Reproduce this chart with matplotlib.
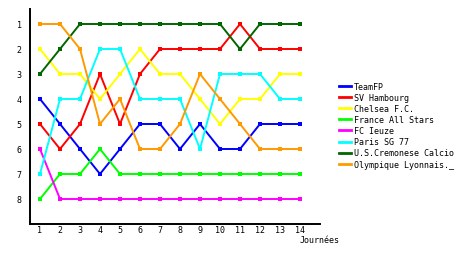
import matplotlib
matplotlib.use("Agg")
import matplotlib.pyplot as plt

journees = list(range(1, 15))

teams = ["TeamFP", "SV Hambourg", "Chelsea F.C.", "France All Stars",
         "FC Ieuze", "Paris SG 77", "U.S.Cremonese Calcio", "Olympique Lyonnais._"]
colors = ["#0000ff", "#ff0000", "#ffff00", "#00ff00",
          "#ff00ff", "#00ffff", "#006600", "#ff9900"]

teamfp = [4, 5, 6, 7, 6, 5, 5, 6, 5, 6, 6, 5, 5, 5]
hambourg = [5, 6, 5, 3, 5, 3, 2, 2, 2, 2, 1, 2, 2, 2]
chelsea = [2, 3, 3, 4, 3, 2, 3, 3, 4, 5, 4, 4, 3, 3]
france = [8, 7, 7, 6, 7, 7, 7, 7, 7, 7, 7, 7, 7, 7]
ieuze = [6, 8, 8, 8, 8, 8, 8, 8, 8, 8, 8, 8, 8, 8]
paris = [7, 4, 4, 2, 2, 4, 4, 4, 6, 3, 3, 3, 4, 4]
cremonese = [3, 2, 1, 1, 1, 1, 1, 1, 1, 1, 2, 1, 1, 1]
lyon = [1, 1, 2, 5, 4, 6, 6, 5, 3, 4, 5, 6, 6, 6]

series = [teamfp, hambourg, chelsea, france, ieuze, paris, cremonese, lyon]

plt.rcParams['font.family'] = ['DejaVu Sans Mono']
plt.rcParams['font.size'] = 6

fig = plt.figure(figsize=(4.6, 2.55), dpi=100)
ax = fig.add_axes([30 / 460, 30 / 255, 290 / 460, 215 / 255])

for name, vals, c in zip(teams, series, colors):
    ax.plot(journees, vals, color=c, lw=1.4, marker='s', markersize=2.3,
            markeredgewidth=0, label=name)

ax.set_xlim(0.5, 15)
ax.set_ylim(9, 0.4)
ax.set_xticks(journees)
ax.set_yticks(range(1, 9))
ax.tick_params(axis='x', length=0, pad=1)
ax.tick_params(axis='y', length=0, pad=6)
for s in ['top', 'right']:
    ax.spines[s].set_visible(False)
ax.spines['left'].set_linewidth(1.4)
ax.spines['bottom'].set_linewidth(1.4)

fig.text(300 / 460, 1 - 241 / 255, "Journées", fontsize=6, va='center', ha='left')

leg = fig.legend(loc='upper left', bbox_to_anchor=(339 / 460, 1 - 83 / 255),
                 frameon=False, handlelength=1.4, handletextpad=0.4,
                 labelspacing=0.25, borderaxespad=0, borderpad=0)
for h in leg.legend_handles:
    h.set_marker('')
    h.set_linewidth(2)

fig.savefig("out.png", dpi=100)
